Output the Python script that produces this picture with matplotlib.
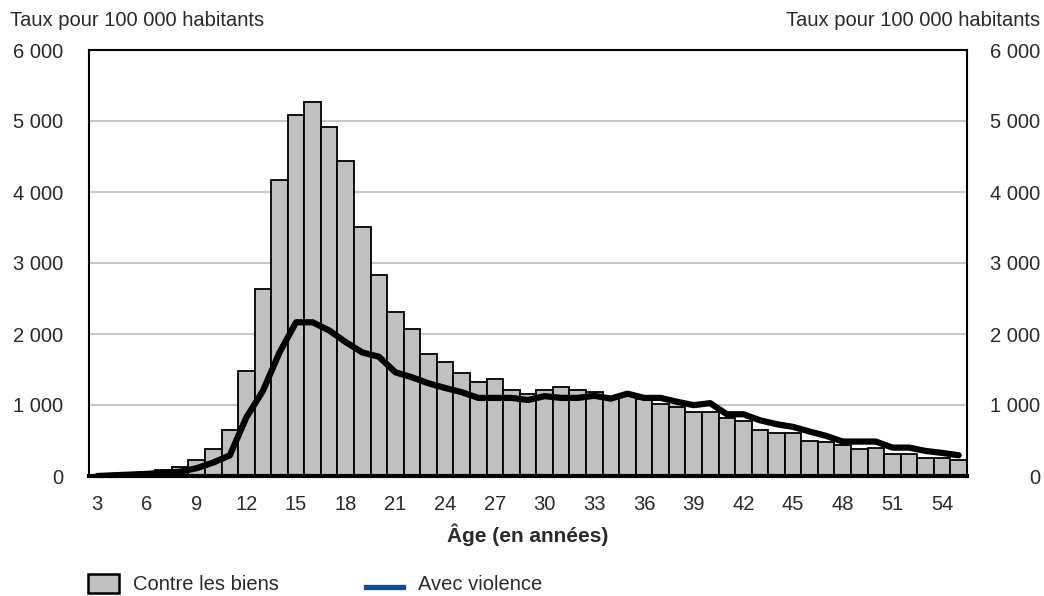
import matplotlib
matplotlib.use("Agg")
import matplotlib.pyplot as plt
from matplotlib.patches import Rectangle
from matplotlib.lines import Line2D

plt.rcParams['font.family'] = ['Liberation Sans', 'DejaVu Sans']

ages = list(range(3, 56))
biens = [5, 10, 20, 50, 80, 130, 230, 385, 650, 1480, 2640, 4165, 5085, 5270, 4910,
         4435, 3505, 2825, 2316, 2076, 1720, 1600, 1450, 1323, 1370, 1210, 1153, 1210,
         1247, 1210, 1180, 1110, 1130, 1085, 1010, 965, 908, 908, 814, 777, 645, 607,
         607, 494, 485, 438, 377, 400, 306, 306, 250, 250, 226]
violence = [0, 10, 20, 30, 45, 60, 110, 190, 290, 825, 1200, 1740, 2165, 2165, 2050,
            1885, 1740, 1680, 1460, 1390, 1305, 1240, 1180, 1100, 1100, 1100, 1070, 1125,
            1100, 1100, 1130, 1090, 1160, 1100, 1100, 1045, 998, 1026, 870, 870, 785, 730,
            692, 626, 565, 485, 485, 485, 400, 400, 353, 325, 292]
xticks = list(range(3, 55, 3))
yticks = [0, 1000, 2000, 3000, 4000, 5000, 6000]
ytick_labels = ["0", "1 000", "2 000", "3 000", "4 000", "5 000", "6 000"]
legend_labels = ["Contre les biens", "Avec violence"]

W, H = 1044, 596
FS = 14.5
TXT = '#2a2a2a'

fig = plt.figure(figsize=(W / 100, H / 100), dpi=100)
ax = fig.add_axes([89 / W, 1 - 476 / H, (967 - 89) / W, (476 - 50) / H])

ax.bar(ages, biens, width=1.0, color='#c0c0c0', edgecolor='black', linewidth=1.3, zorder=2)
ax.plot(ages, violence, color='black', linewidth=4.5, solid_joinstyle='round',
        solid_capstyle='round', zorder=3)

ax.set_xlim(2.5, 55.5)
ax.set_ylim(0, 6000)
ax.set_yticks(yticks)
ax.set_yticklabels(ytick_labels)
ax.set_xticks(xticks)
ax.grid(axis='y', color='#c8c8c8', linewidth=1.5, zorder=0)
ax.set_axisbelow(True)

for s in ['left', 'right', 'top']:
    ax.spines[s].set_linewidth(1.5)
    ax.spines[s].set_color('black')
ax.spines['bottom'].set_linewidth(3)

ax.tick_params(axis='both', length=0, labelsize=FS, colors=TXT)
ax.tick_params(axis='y', pad=18.7)
ax.tick_params(axis='x', pad=13.6)

ax2 = ax.twinx()
ax2.set_ylim(0, 6000)
ax2.set_yticks(yticks)
ax2.set_yticklabels(ytick_labels, ha='right')
ax2.tick_params(axis='y', length=0, labelsize=FS, colors=TXT, pad=52.6)
for s in ax2.spines.values():
    s.set_visible(False)

ax.set_xlabel("Âge (en années)", fontsize=15, fontweight='bold', labelpad=7, color=TXT)

fig.text(10 / W, 1 - 20 / H, "Taux pour 100 000 habitants", fontsize=FS, va='center', ha='left', color=TXT)
fig.text(1040 / W, 1 - 20 / H, "Taux pour 100 000 habitants", fontsize=FS, va='center', ha='right', color=TXT)

# legend (manual layout below the chart)
fig.add_artist(Rectangle((88 / W, 1 - 593 / H), 31 / W, 19 / H, transform=fig.transFigure,
                         facecolor='#c0c0c0', edgecolor='black', linewidth=1.8))
fig.add_artist(Line2D([366 / W, 403 / W], [1 - 587 / H, 1 - 587 / H], transform=fig.transFigure,
                      color='#0a4f9a', linewidth=3.8))
fig.text(133 / W, 1 - 585 / H, legend_labels[0], fontsize=FS, va='center', ha='left', color=TXT)
fig.text(418 / W, 1 - 585 / H, legend_labels[1], fontsize=FS, va='center', ha='left', color=TXT)

fig.savefig("out.png", dpi=100)
